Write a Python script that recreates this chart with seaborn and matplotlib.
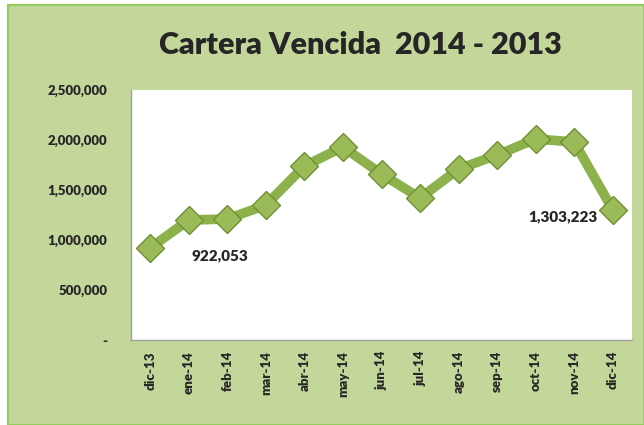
import numpy as np
import pandas as pd
import seaborn as sns
import matplotlib.pyplot as plt
from matplotlib.patches import Rectangle
from matplotlib.ticker import FuncFormatter, FixedLocator

#----------------------------------------------------------
# Data
#----------------------------------------------------------
months = ["dic-13", "ene-14", "feb-14", "mar-14", "abr-14", "may-14", "jun-14",
          "jul-14", "ago-14", "sep-14", "oct-14", "nov-14", "dic-14"]
cartera = [922053, 1200000, 1210000, 1350000, 1740000, 1930000, 1660000,
           1420000, 1710000, 1850000, 2010000, 1980000, 1303223]
y_ticks = [0, 500000, 1000000, 1500000, 2000000, 2500000]

title = "Cartera Vencida  2014 - 2013"

bg_green = "#C4D79B"
line_green = "#8DB24C"
marker_green = "#9BBB59"
edge_green = "#6F8F34"

df = pd.DataFrame({"mes": months, "valor": cartera})

sns.set_style("white")
plt.rcParams["font.family"] = ["Lato", "DejaVu Sans"]

fig = plt.figure(figsize=(6.44, 4.25), dpi=100)
fig.patch.set_facecolor("white")
# green chart area with a light frame (behind the axes)
fig.patches.append(Rectangle((8 / 644, 0), 1 - 8 / 644, 1 - 5 / 425,
                             transform=fig.transFigure, facecolor=bg_green,
                             edgecolor="#92CC5A", linewidth=1.5, zorder=-5))

ax = fig.add_axes([131 / 644, 85 / 425, 501 / 644, 250 / 425])
ax.set_facecolor("white")
ax.set_zorder(2)

sns.lineplot(data=df, x="mes", y="valor", sort=False, ax=ax,
             color=line_green, linewidth=7, marker="D", markersize=14,
             markerfacecolor=marker_green, markeredgecolor=edge_green,
             markeredgewidth=1.0)

ax.set_xlim(-0.5, len(months) - 0.5)
ax.set_ylim(0, 2500000)
ax.set_yticks(y_ticks)
ax.yaxis.set_major_formatter(FuncFormatter(lambda v, p: "-" if v == 0 else f"{int(v):,}"))
ax.set_xticks(range(len(months)))
ax.set_xticklabels(months, rotation=90, fontsize=9.5, fontweight="heavy")
ax.xaxis.set_minor_locator(FixedLocator(np.arange(-0.5, len(months), 1.0)))
ax.tick_params(axis="x", which="major", length=0, pad=8)
ax.tick_params(axis="x", which="minor", length=5, color="#A0A0A0", width=1)
ax.tick_params(axis="y", which="major", length=5, color="#A0A0A0", width=1,
               labelsize=9.5, pad=12)
for lab in ax.get_yticklabels():
    lab.set_fontweight("heavy")

ax.set_xlabel("")
ax.set_ylabel("")
for side in ["top", "right"]:
    ax.spines[side].set_visible(False)
for side in ["left", "bottom"]:
    ax.spines[side].set_color("#A0A0A0")
    ax.spines[side].set_linewidth(1)

# data labels for first and last points
ax.annotate(f"{cartera[0]:,}", xy=(0, cartera[0]), xytext=(50, -6),
            textcoords="offset points", ha="center", va="center",
            fontsize=11, fontweight="heavy")
ax.annotate(f"{cartera[-1]:,}", xy=(len(months) - 1, cartera[-1]), xytext=(-36, -5),
            textcoords="offset points", ha="center", va="center",
            fontsize=11, fontweight="heavy")

fig.text(360 / 644, 1 - 45 / 425, title, ha="center", va="center",
         fontsize=22, fontweight="heavy")

fig.savefig("out.png", dpi=100, facecolor=fig.get_facecolor())
